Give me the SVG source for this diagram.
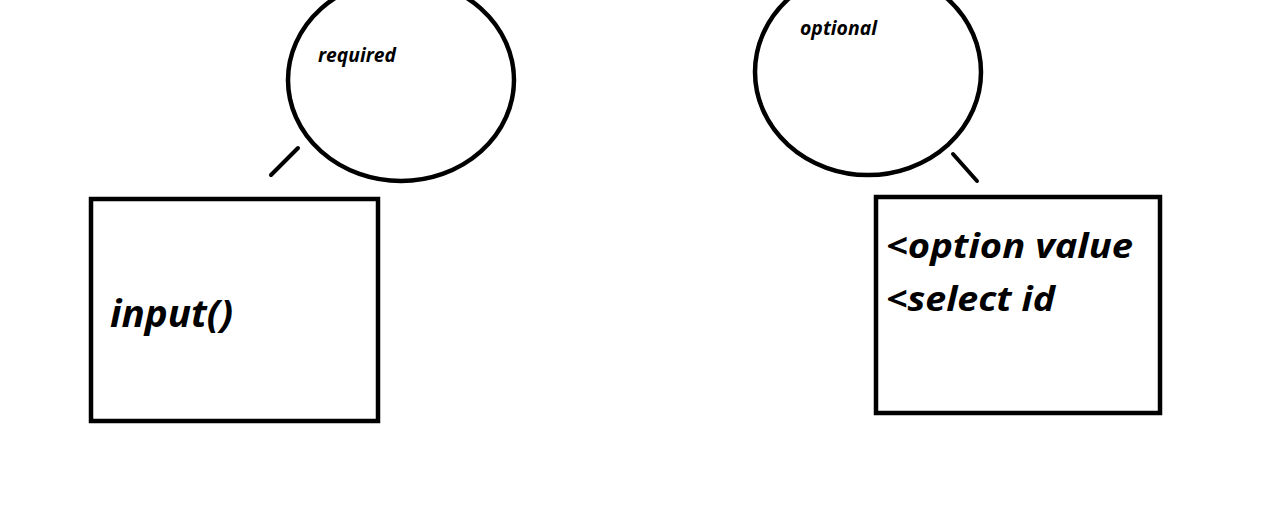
<svg xmlns="http://www.w3.org/2000/svg" width="1279" height="511" viewBox="0 0 1279 511">
  <style>
    .shape { fill: none; stroke: #000; stroke-width: 4.5; }
    .tick { stroke: #000; stroke-width: 4; stroke-linecap: round; }
    .lbl { font-family: "Open Sans", "Liberation Sans", sans-serif; font-weight: bold; font-style: italic; fill: #000; }
  </style>
  <rect width="1279" height="511" fill="#fff"/>

  <g id="required-bubble">
    <ellipse class="shape" cx="401" cy="80" rx="113" ry="101"/>
    <text class="lbl" x="318" y="62" font-size="19" textLength="78" lengthAdjust="spacingAndGlyphs">required</text>
  </g>

  <g id="optional-bubble">
    <ellipse class="shape" cx="868" cy="72" rx="113" ry="103"/>
    <text class="lbl" x="800" y="35" font-size="19" textLength="77" lengthAdjust="spacingAndGlyphs">optional</text>
  </g>

  <g id="input-box">
    <rect class="shape" x="91" y="199" width="287" height="222"/>
    <text class="lbl" x="110" y="327" font-size="37" textLength="123" lengthAdjust="spacingAndGlyphs">input()</text>
  </g>

  <g id="select-box">
    <rect class="shape" x="876" y="197" width="284" height="216"/>
    <text class="lbl" x="886" y="258" font-size="34" textLength="247" lengthAdjust="spacingAndGlyphs">&lt;option value</text>
    <text class="lbl" x="886" y="311" font-size="34" textLength="169" lengthAdjust="spacingAndGlyphs">&lt;select id</text>
  </g>

  <g id="connectors">
    <line class="tick" x1="298" y1="148" x2="271" y2="175"/>
    <line class="tick" x1="953" y1="154" x2="977" y2="181"/>
  </g>
</svg>
